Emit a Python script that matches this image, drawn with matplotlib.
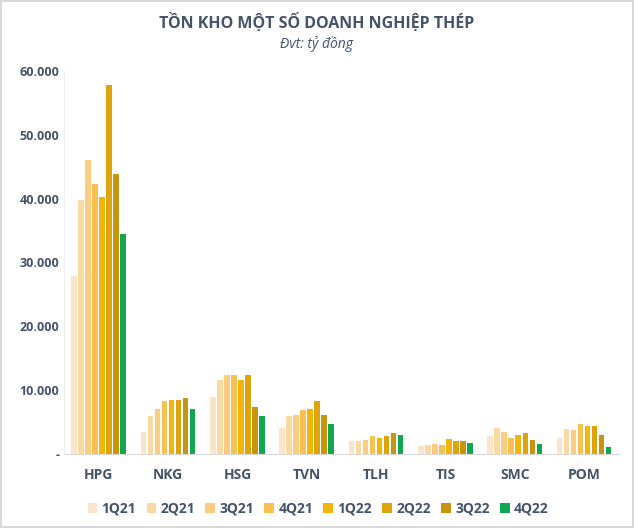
import numpy as np
import matplotlib.pyplot as plt

# companies and quarters
companies = ["HPG", "NKG", "HSG", "TVN", "TLH", "TIS", "SMC", "POM"]
quarters = ["1Q21", "2Q21", "3Q21", "4Q21", "1Q22", "2Q22", "3Q22", "4Q22"]

# inventory (ty dong), one list per quarter, in company order
q1_21 = [27800, 3500, 8900, 4100, 2050, 1250, 2800, 2500]
q2_21 = [39800, 5950, 11600, 5950, 2050, 1450, 4050, 3900]
q3_21 = [46100, 7050, 12400, 6100, 2200, 1550, 3450, 3750]
q4_21 = [42200, 8300, 12400, 6900, 2800, 1400, 2500, 4700]
q1_22 = [40200, 8450, 11600, 7050, 2500, 2350, 3000, 4400]
q2_22 = [57700, 8450, 12400, 8300, 2800, 2050, 3300, 4400]
q3_22 = [43900, 8800, 7350, 6100, 3300, 2050, 2200, 3000]
q4_22 = [34500, 7050, 5950, 4700, 3000, 1700, 1550, 1100]

series = [q1_21, q2_21, q3_21, q4_21, q1_22, q2_22, q3_22, q4_22]
colors = ["#FCE4C6", "#FDD9A2", "#FCCC80", "#FBC052",
          "#F5B40A", "#DFA30C", "#C79510", "#12A650"]

plt.rcParams['font.family'] = ['Open Sans', 'DejaVu Sans']
txt = "#44546A"

fig = plt.figure(figsize=(6.34, 5.28), dpi=100)
fig.patch.set_edgecolor("#D9D9D9")
fig.patch.set_linewidth(1.5)
ax = fig.add_axes([0.101, 0.140, 0.875, 0.726])

x = np.arange(len(companies))
pitch = 0.101
width = 0.08
for i, (vals, c) in enumerate(zip(series, colors)):
    ax.bar(x + (i - 3.5) * pitch, vals, width, color=c, label=quarters[i], zorder=2)

ax.set_xlim(-0.5, len(companies) - 0.5)
ax.set_ylim(0, 60000)
ax.set_yticks(range(0, 60001, 10000))
ax.set_yticklabels(["-"] + [f"{v:,}".replace(",", ".") for v in range(10000, 60001, 10000)])
ax.set_xticks(x)
ax.set_xticklabels(companies, fontweight="bold")
ax.tick_params(axis="both", length=0, colors=txt, labelsize=9)
ax.tick_params(axis="x", pad=10, labelsize=10)
for lab in ax.get_yticklabels():
    lab.set_fontweight("bold")
    lab.set_fontsize(9)

for s in ["top", "right"]:
    ax.spines[s].set_visible(False)
ax.spines["left"].set_color("#F0F0F0")
ax.spines["bottom"].set_color("#D9D9D9")

fig.text(0.5, 0.958, "TỒN KHO MỘT SỐ DOANH NGHIỆP THÉP", ha="center", va="center",
         fontsize=11.5, fontweight="bold", color=txt)
fig.text(0.5, 0.917, "Đvt: tỷ đồng", ha="center", va="center",
         fontsize=10, style="italic", color=txt)

leg = fig.legend(loc="center", bbox_to_anchor=(0.502, 0.036), ncol=8, frameon=False,
                 handlelength=0.7, handleheight=0.7, handletextpad=0.3,
                 columnspacing=0.75, prop={"weight": "bold", "size": 10})
for t in leg.get_texts():
    t.set_color(txt)

fig.savefig("out.png", dpi=100, edgecolor=fig.get_edgecolor())
